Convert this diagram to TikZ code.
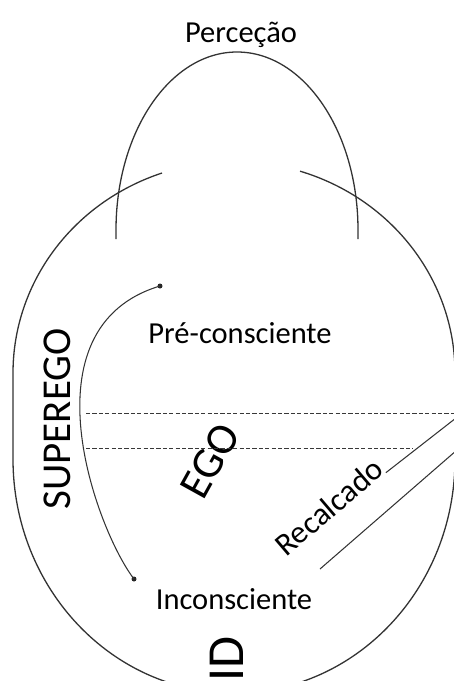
\documentclass[tikz,border=0pt]{standalone}
\usepackage{fontspec}
\setmainfont{Carlito}
\begin{document}
\begin{tikzpicture}[x=1pt,y=1pt,
  ln/.style={draw=black!80, line width=1.3pt},
  thin/.style={draw=black!80, line width=1.05pt},
  dsh/.style={draw=black!78, line width=1pt, dash pattern=on 4.2pt off 2.2pt},
  lbl/.style={inner sep=0pt, font=\fontsize{30.5}{36}\selectfont},
  big/.style={inner sep=0pt, font=\fontsize{41}{48}\selectfont},
  bigego/.style={inner sep=0pt, font=\fontsize{44}{52}\selectfont},
  idtext/.style={inner sep=0pt, font=\fontsize{52}{60}\selectfont},
  dotmark/.style={circle, fill=black!85, inner sep=0pt, minimum size=5pt}]
\useasboundingbox (0,0) rectangle (454,-681);
\clip (0,0) rectangle (454,-681);
% outer egg (open at the top)
\draw[ln] (162.05,-173) arc[start angle=109, end angle=180, x radius=221pt, y radius=211.5pt]
  -- (13,-459) arc[start angle=180, end angle=360, x radius=221pt, y radius=234pt]
  -- (455,-373) arc[start angle=0, end angle=72.6, x radius=221pt, y radius=211.5pt];
% perception arch
\draw[ln] (116,-239) -- (116,-230) arc[start angle=180, end angle=0, x radius=121pt, y radius=178pt] -- (358,-239);
% texts
\node[lbl, anchor=base] (perc) at (241,-42) {Perceção};
\node[lbl, anchor=base] (pre) at (240,-343) {Pré-consciente};
\node[lbl, anchor=base] (inc) at (234,-609) {Inconsciente};
\node[big, rotate=90, anchor=base] (sup) at (70,-419) {SUPEREGO};
\node[bigego, rotate=61, anchor=center] (ego) at (210,-461) {EGO};
\node[idtext, rotate=90, anchor=base] (id) at (243,-659) {ID};
\node[lbl, font=\fontsize{32}{38}\selectfont, rotate=40.5, anchor=base west] (rec) at (286,-558) {Recalcado};
% dashed levels
\coordinate (ua) at (86,-413.5);
\coordinate (ub) at (456,-413.5);
\coordinate (la) at (86,-448);
\coordinate (lb) at (413,-448);
\draw[dsh] (ua) -- (ub);
\draw[dsh] (la) -- (lb);
% repression lines
\coordinate (u2) at (456,-418);
\draw[thin] (rec.base east) -- (u2);
\coordinate (l1) at (320,-569);
\coordinate (l2) at (457,-450);
\draw[thin] (l1) -- (l2);
% superego connector
\node[dotmark] (d1) at (160,-286) {};
\node[dotmark] (d2) at (134,-579) {};
\draw[thin] (d1.center) .. controls (21.4,-327.6) and (96.6,-530.4) .. (d2.center);
\end{tikzpicture}
\end{document}
